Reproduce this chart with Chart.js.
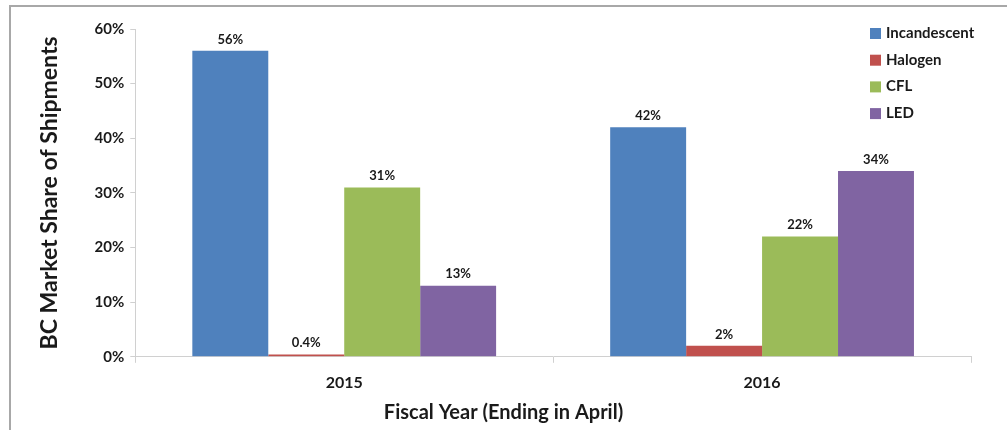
<!DOCTYPE html>
<html lang="en">
<head>
    <meta charset="UTF-8">
    <title>BC Market Share of Shipments</title>
    <script src="https://cdn.jsdelivr.net/npm/chart.js@4/dist/chart.umd.min.js"></script>
    <style>
        body {
            margin: 0;
            padding: 0;
            background-color: #fff;
        }

        .chart-container {
            position: relative;
            width: 1007px;
            height: 430px;
            overflow: hidden;
        }

        .frame {
            position: absolute;
            left: 9px;
            top: 5px;
            width: 1100px;
            height: 500px;
            border-top: 2px solid #a8a8a8;
            border-left: 2px solid #a8a8a8;
        }

        canvas {
            position: absolute;
            left: 0;
            top: 0;
        }
    </style>
</head>
<body>

    <div class="chart-container">
        <div class="frame"></div>
        <canvas id="shareChart" width="1007" height="430"></canvas>
    </div>

    <script>
        const years = ['2015', '2016'];
        const incandescent = [56, 42];
        const halogen = [0.4, 2];
        const cfl = [31, 22];
        const led = [13, 34];
        const yTicks = [0, 10, 20, 30, 40, 50, 60];

        const FONT = "'Lato', 'DejaVu Sans', sans-serif";
        const TEXT = '#1a1a1a';

        function pct(v) {
            return (v < 1 ? v.toFixed(1) : v) + '%';
        }

        // value labels above each bar
        const barLabels = {
            id: 'barLabels',
            afterDatasetsDraw(chart) {
                const ctx = chart.ctx;
                ctx.save();
                ctx.font = 'bold 13px ' + FONT;
                ctx.fillStyle = TEXT;
                ctx.textAlign = 'center';
                ctx.textBaseline = 'bottom';
                chart.data.datasets.forEach((ds, i) => {
                    chart.getDatasetMeta(i).data.forEach((bar, j) => {
                        ctx.fillText(pct(ds.data[j]), bar.x, bar.y - 5);
                    });
                });
                ctx.restore();
            }
        };

        // legend sits on top of the plot area, upper right
        const overlayLegend = {
            id: 'overlayLegend',
            afterDraw(chart) {
                const ctx = chart.ctx;
                const x = chart.chartArea.right - 101;
                let y = 33;
                ctx.save();
                ctx.font = 'bold 15px ' + FONT;
                ctx.textAlign = 'left';
                ctx.textBaseline = 'middle';
                chart.data.datasets.forEach(ds => {
                    ctx.fillStyle = ds.backgroundColor;
                    ctx.fillRect(x, y - 5, 11, 11);
                    ctx.fillStyle = TEXT;
                    ctx.fillText(ds.label, x + 16, y);
                    y += 26.7;
                });
                ctx.restore();
            }
        };

        const shareConfig = {
            type: 'bar',
            data: {
                labels: years,
                datasets: [
                    { label: 'Incandescent', data: incandescent, backgroundColor: '#4f81bd' },
                    { label: 'Halogen', data: halogen, backgroundColor: '#c0504d' },
                    { label: 'CFL', data: cfl, backgroundColor: '#9bbb59' },
                    { label: 'LED', data: led, backgroundColor: '#8064a2' }
                ]
            },
            options: {
                responsive: false,
                animation: false,
                layout: {
                    padding: { left: 36, right: 36, top: 29, bottom: 7 }
                },
                datasets: {
                    bar: {
                        categoryPercentage: 0.727,
                        barPercentage: 1.0
                    }
                },
                plugins: {
                    legend: { display: false },
                    tooltip: { enabled: false },
                    title: {
                        display: true,
                        position: 'bottom',
                        text: 'Fiscal Year (Ending in April)',
                        color: TEXT,
                        font: { family: FONT, size: 20, weight: 'bold', lineHeight: 1.0 },
                        padding: { top: 0, bottom: 0 }
                    }
                },
                scales: {
                    x: {
                        grid: {
                            display: true,
                            drawOnChartArea: false,
                            color: '#d0d0d0',
                            tickLength: 6
                        },
                        border: { color: '#d0d0d0' },
                        ticks: {
                            color: TEXT,
                            padding: 10.5,
                            font: { family: FONT, size: 16, weight: 'bold' }
                        }
                    },
                    y: {
                        min: 0,
                        max: 60,
                        afterBuildTicks(axis) {
                            axis.ticks = yTicks.map(v => ({ value: v }));
                        },
                        grid: {
                            display: true,
                            drawOnChartArea: false,
                            color: '#d0d0d0',
                            tickLength: 5
                        },
                        border: { color: '#d0d0d0' },
                        title: {
                            display: true,
                            text: 'BC Market Share of Shipments',
                            color: TEXT,
                            font: { family: FONT, size: 23, weight: 'bold' },
                            padding: { top: 0, bottom: 25 }
                        },
                        ticks: {
                            color: TEXT,
                            padding: 6,
                            font: { family: FONT, size: 15, weight: 'bold' },
                            callback: v => v + '%'
                        }
                    }
                }
            },
            plugins: [barLabels, overlayLegend]
        };

        const shareCtx = document.getElementById('shareChart').getContext('2d');
        const shareChart = new Chart(shareCtx, shareConfig);
    </script>

</body>
</html>
